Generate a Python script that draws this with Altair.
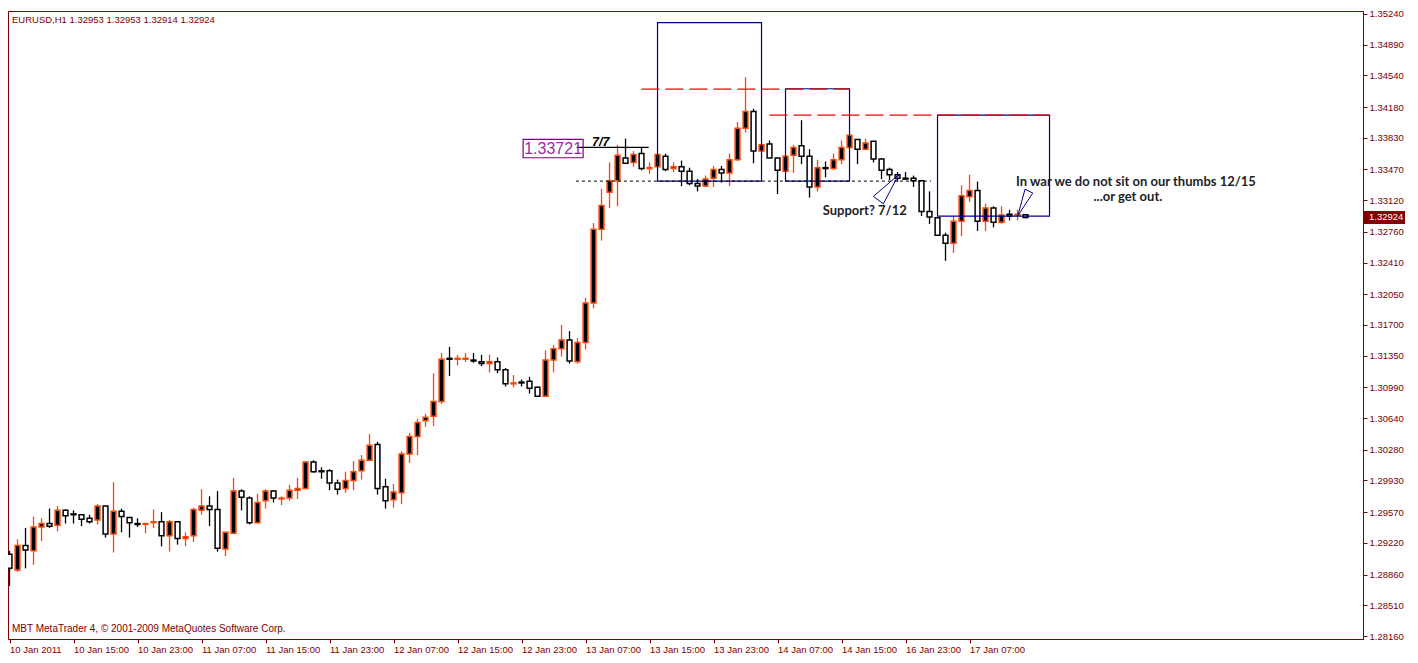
import altair as alt
import pandas as pd
import numpy as np

# ---------------- data (EURUSD H1) ----------------
opens = [1.2909, 1.2891, 1.2919, 1.2913, 1.2940, 1.2944, 1.2942, 1.2959, 1.2955, 1.2954,
         1.2950, 1.2948, 1.2964, 1.2932, 1.2958, 1.2951, 1.2944, 1.2943, 1.2945, 1.2946,
         1.2930, 1.2946, 1.2927, 1.2930, 1.2959, 1.2964, 1.2960, 1.2915, 1.2933, 1.2981,
         1.2973, 1.2945, 1.2970, 1.2981, 1.2972, 1.2973, 1.2982, 1.2984, 1.3014, 1.3004,
         1.3004, 1.2990, 1.2984, 1.2993, 1.3004, 1.3016, 1.3034, 1.2986, 1.2971, 1.2979,
         1.3023, 1.3043, 1.3061, 1.3066, 1.3083, 1.3132, 1.3131, 1.3131, 1.3130, 1.3128,
         1.3126, 1.3128, 1.3119, 1.3103, 1.3105, 1.3106, 1.3099, 1.3089, 1.3130, 1.3143,
         1.3153, 1.3128, 1.3150, 1.3195, 1.3279, 1.3321, 1.3334, 1.3360, 1.3355, 1.3365,
         1.3348, 1.3350, 1.3362, 1.3348, 1.3350, 1.3345, 1.3331, 1.3328, 1.3337, 1.3347,
         1.3343, 1.3358, 1.3394, 1.3413, 1.3368, 1.3376, 1.3360, 1.3345, 1.3363, 1.3374,
         1.3362, 1.3327, 1.3349, 1.3348, 1.3358, 1.3372, 1.3381, 1.3370, 1.3379, 1.3359,
         1.3347, 1.3341, 1.3337, 1.3337, 1.3334, 1.3299, 1.3292, 1.3272, 1.3263, 1.3288,
         1.3316, 1.3323, 1.3288, 1.3303, 1.3287, 1.3296, 1.3295, 1.32953]
highs = [1.2913, 1.2926, 1.2939, 1.2952, 1.2950, 1.2961, 1.2964, 1.2960, 1.2959, 1.2954,
         1.2954, 1.2966, 1.2964, 1.2991, 1.2961, 1.2951, 1.2950, 1.2944, 1.2960, 1.2957,
         1.2948, 1.2946, 1.2934, 1.2962, 1.2983, 1.2975, 1.2981, 1.2934, 1.2996, 1.2983,
         1.2975, 1.2978, 1.2983, 1.2982, 1.2975, 1.2988, 1.2996, 1.3014, 1.3016, 1.3008,
         1.3006, 1.2994, 1.3003, 1.3015, 1.3022, 1.3046, 1.3037, 1.2995, 1.2989, 1.3026,
         1.3047, 1.3063, 1.3069, 1.3115, 1.3138, 1.3145, 1.3136, 1.3138, 1.3138, 1.3136,
         1.3136, 1.3133, 1.3121, 1.3113, 1.3108, 1.3111, 1.3100, 1.3141, 1.3147, 1.3170,
         1.3163, 1.3155, 1.3201, 1.3286, 1.3325, 1.3355, 1.3375, 1.3382, 1.3368, 1.3372,
         1.3355, 1.3365, 1.3365, 1.3355, 1.3357, 1.3349, 1.3336, 1.3340, 1.3351, 1.3351,
         1.3365, 1.3401, 1.3452, 1.3416, 1.3375, 1.3380, 1.3360, 1.3362, 1.3375, 1.3403,
         1.3370, 1.3358, 1.3356, 1.3365, 1.3380, 1.3386, 1.3381, 1.3382, 1.3379, 1.3360,
         1.3349, 1.3344, 1.3344, 1.3340, 1.3334, 1.3322, 1.3292, 1.3275, 1.3294, 1.3329,
         1.3341, 1.3333, 1.3308, 1.3305, 1.3305, 1.3301, 1.3301, 1.32953]
lows = [1.2873, 1.2889, 1.2893, 1.2897, 1.2924, 1.2939, 1.2935, 1.2944, 1.2944, 1.2941,
        1.2944, 1.2943, 1.2928, 1.2911, 1.2934, 1.2928, 1.2940, 1.2933, 1.2939, 1.2918,
        1.2912, 1.2920, 1.2918, 1.2923, 1.2954, 1.2941, 1.2912, 1.2907, 1.2933, 1.2959,
        1.2943, 1.2944, 1.2961, 1.2968, 1.2965, 1.2970, 1.2972, 1.2984, 1.3002, 1.2995,
        1.2982, 1.2977, 1.2979, 1.2982, 1.2994, 1.3016, 1.2977, 1.2961, 1.2962, 1.2966,
        1.3013, 1.3022, 1.3054, 1.3055, 1.3080, 1.3112, 1.3124, 1.3128, 1.3127, 1.3123,
        1.3116, 1.3115, 1.3100, 1.3099, 1.3100, 1.3092, 1.3088, 1.3088, 1.3116, 1.3134,
        1.3126, 1.3126, 1.3142, 1.3189, 1.3266, 1.3303, 1.3305, 1.3353, 1.3350, 1.3346,
        1.3342, 1.3350, 1.3345, 1.3344, 1.3328, 1.3329, 1.3322, 1.3327, 1.3327, 1.3332,
        1.3328, 1.3357, 1.3389, 1.3354, 1.3368, 1.3360, 1.3319, 1.3345, 1.3343, 1.3353,
        1.3315, 1.3322, 1.3338, 1.3346, 1.3353, 1.3372, 1.3353, 1.3369, 1.3355, 1.3336,
        1.3335, 1.3333, 1.3336, 1.3327, 1.3294, 1.3285, 1.3272, 1.3243, 1.3252, 1.3271,
        1.3310, 1.3277, 1.3277, 1.3281, 1.3285, 1.3289, 1.3289, 1.32914]
closes = [1.2893, 1.2919, 1.2914, 1.2940, 1.2944, 1.2941, 1.2959, 1.2953, 1.2954, 1.2949,
          1.2946, 1.2964, 1.2932, 1.2958, 1.2952, 1.2945, 1.2943, 1.2944, 1.2946, 1.2930,
          1.2946, 1.2927, 1.2929, 1.2960, 1.2964, 1.2960, 1.2916, 1.2934, 1.2981, 1.2974,
          1.2945, 1.2968, 1.2981, 1.2973, 1.2973, 1.2982, 1.2984, 1.3014, 1.3003, 1.3003,
          1.2990, 1.2983, 1.2993, 1.3003, 1.3016, 1.3033, 1.2984, 1.2970, 1.2980, 1.3023,
          1.3043, 1.3059, 1.3065, 1.3083, 1.3131, 1.3131, 1.3132, 1.3132, 1.3129, 1.3126,
          1.3128, 1.3119, 1.3103, 1.3104, 1.3104, 1.3098, 1.3089, 1.3130, 1.3143, 1.3153,
          1.3129, 1.3150, 1.3195, 1.3279, 1.3306, 1.3334, 1.3363, 1.3354, 1.3364, 1.3348,
          1.3349, 1.3364, 1.3347, 1.3350, 1.3345, 1.3331, 1.3328, 1.3336, 1.3347, 1.3343,
          1.3358, 1.3394, 1.3413, 1.3368, 1.3375, 1.3360, 1.3346, 1.3362, 1.3372, 1.3362,
          1.3327, 1.3349, 1.3348, 1.3358, 1.3372, 1.3386, 1.3370, 1.3377, 1.3359, 1.3346,
          1.3341, 1.3337, 1.3336, 1.3334, 1.3299, 1.3293, 1.3272, 1.3263, 1.3288, 1.3317,
          1.3323, 1.3288, 1.3303, 1.3287, 1.3295, 1.3294, 1.3296, 1.32924]

x_tick_bars = [0, 8, 16, 24, 32, 40, 48, 56, 64, 72, 80, 88, 96, 104, 112, 120]
x_tick_labels = ["10 Jan 2011", "10 Jan 15:00", "10 Jan 23:00", "11 Jan 07:00",
                 "11 Jan 15:00", "11 Jan 23:00", "12 Jan 07:00", "12 Jan 15:00",
                 "12 Jan 23:00", "13 Jan 07:00", "13 Jan 15:00", "13 Jan 23:00",
                 "14 Jan 07:00", "14 Jan 15:00", "16 Jan 23:00", "17 Jan 07:00"]
y_ticks = [1.35240, 1.34890, 1.34540, 1.34180, 1.33830, 1.33470, 1.33120, 1.32760,
           1.32410, 1.32050, 1.31700, 1.31350, 1.30990, 1.30640, 1.30280, 1.29930,
           1.29570, 1.29220, 1.28860, 1.28510, 1.28160]

# drawn objects (bar index, price)
box_x0 = [81, 97, 116]
box_x1 = [94, 105, 130]
box_top = [1.35140, 1.34388, 1.34089]
box_bot = [1.33337, 1.33337, 1.32939]

red_x0 = [79, 95]
red_x1 = [105, 130]
red_y = [1.34385, 1.34089]

support_line = (70.8, 115.2, 1.33337)
level_line = (70.9, 79.9, 1.33721)

tri_id = [1, 1, 1, 1, 2, 2, 2, 2]
tri_order = [0, 1, 2, 3, 0, 1, 2, 3]
tri_x = [111.15, 107.98, 109.23, 111.15, 126.03, 126.94, 127.90, 126.03]
tri_y = [1.33411, 1.33163, 1.33079, 1.33411, 1.32942, 1.33245, 1.33201, 1.32942]

note_text = ["Support? 7/12", "In war we do not sit on our thumbs 12/15", "...or get out."]
note_x = [106.9, 140.8, 139.8]
note_y = [1.33000, 1.33325, 1.33160]

title_text = "EURUSD,H1  1.32953 1.32953 1.32914 1.32924"
copyright_text = "MBT MetaTrader 4, \u00a9 2001-2009 MetaQuotes Software Corp."
last_price = 1.32924

# ---------------- chart ----------------
W, H = 1355, 628
MAROON = "#800000"
ORANGE = "#FF4500"
NAVY = "#00008B"
FONT = "Liberation Sans"

df = pd.DataFrame({"i": np.arange(len(opens)), "o": opens, "h": highs, "l": lows, "c": closes})
df["dir"] = np.where(df["c"] > df["o"], "bull", "bear")
df["x0"] = df["i"] - 0.3
df["x1"] = df["i"] + 0.3

xs = alt.Scale(domain=[-0.19, -0.19 + W / 8.0], nice=False, zero=False)
ys = alt.Scale(domain=[1.28126, 1.35273], nice=False, zero=False)

labels_js = "[" + ",".join("'%s'" % t for t in x_tick_labels) + "]"
xaxis = alt.Axis(values=x_tick_bars, labelExpr=labels_js + "[round(datum.value/8)]",
                 title=None, grid=False, orient="bottom", domainColor=MAROON,
                 tickColor=MAROON, tickSize=4, labelAlign="left",
                 labelPadding=1, labelFont=FONT, labelFontSize=9.5, labelColor=MAROON,
                 labelOverlap=False, labelFlush=False)
yaxis = alt.Axis(values=y_ticks, format=".5f", title=None, grid=False, orient="right",
                 domainColor=MAROON, tickColor=MAROON, tickSize=4, labelPadding=2,
                 labelFont=FONT, labelFontSize=9.5, labelColor=MAROON, labelOverlap=False,
                 labelFlush=False)


def X(field):
    return alt.X(field, scale=xs, axis=xaxis)


def Y(field):
    return alt.Y(field, scale=ys, axis=yaxis)


dir_stroke = alt.Scale(domain=["bull", "bear"], range=[ORANGE, "#000000"])
dir_fill = alt.Scale(domain=["bull", "bear"], range=["#000000", "#ffffff"])

wicks = alt.Chart(df).mark_rule(strokeWidth=1.3, clip=True).encode(
    x=X("i:Q"), y=Y("l:Q"), y2="h:Q",
    stroke=alt.Stroke("dir:N", scale=dir_stroke, legend=None),
)
bodies = alt.Chart(df).mark_rect(strokeWidth=1.5, clip=True).encode(
    x=X("x0:Q"), x2="x1:Q", y=Y("o:Q"), y2="c:Q",
    fill=alt.Fill("dir:N", scale=dir_fill, legend=None),
    stroke=alt.Stroke("dir:N", scale=dir_stroke, legend=None),
)

box_df = pd.DataFrame({"x0": box_x0, "x1": box_x1, "top": box_top, "bot": box_bot})
boxes = alt.Chart(box_df).mark_rect(fillOpacity=0, stroke=NAVY, strokeWidth=1.2).encode(
    x=X("x0:Q"), x2="x1:Q", y=Y("top:Q"), y2="bot:Q",
)

red_df = pd.DataFrame({"x0": red_x0, "x1": red_x1, "y": red_y})
red_lines = alt.Chart(red_df).mark_rule(color="#FF0000", strokeWidth=1.2, strokeDash=[18, 6]).encode(
    x=X("x0:Q"), x2="x1:Q", y=Y("y:Q"),
)

sup_df = pd.DataFrame({"x0": [support_line[0]], "x1": [support_line[1]], "y": [support_line[2]]})
sup_line = alt.Chart(sup_df).mark_rule(color="#000000", strokeWidth=1, strokeDash=[3, 3]).encode(
    x=X("x0:Q"), x2="x1:Q", y=Y("y:Q"),
)
lvl_df = pd.DataFrame({"x0": [level_line[0]], "x1": [level_line[1]], "y": [level_line[2]]})
lvl_line = alt.Chart(lvl_df).mark_rule(color="#000000", strokeWidth=1.2).encode(
    x=X("x0:Q"), x2="x1:Q", y=Y("y:Q"),
)

lbl_df = pd.DataFrame({"x0": [64.2], "x1": [71.7], "top": [1.33813], "bot": [1.33603],
                       "xc": [67.95], "yc": [1.33705], "t": ["1.33721"]})
lbl_box = alt.Chart(lbl_df).mark_rect(fillOpacity=0, stroke="#800080", strokeWidth=1.2).encode(
    x=X("x0:Q"), x2="x1:Q", y=Y("top:Q"), y2="bot:Q",
)
lbl_text = alt.Chart(lbl_df).mark_text(font=FONT, fontSize=16, color="#9B2D9B",
                                       align="center", baseline="middle").encode(
    x=X("xc:Q"), y=Y("yc:Q"), text="t:N",
)
seven_df = pd.DataFrame({"x": [73.9], "y": [1.33785], "t": ["7/7"]})
seven = alt.Chart(seven_df).mark_text(font=FONT, fontSize=12.5, fontWeight="bold",
                                      fontStyle="italic", color="#000000",
                                      align="center", baseline="middle").encode(
    x=X("x:Q"), y=Y("y:Q"), text="t:N",
)

tri_df = pd.DataFrame({"id": tri_id, "k": tri_order, "x": tri_x, "y": tri_y})
tris = alt.Chart(tri_df).mark_line(color=NAVY, strokeWidth=1).encode(
    x=X("x:Q"), y=Y("y:Q"), detail="id:N", order="k:Q",
)

note_df = pd.DataFrame({"t": note_text, "x": note_x, "y": note_y})
notes = alt.Chart(note_df).mark_text(font="Lato", fontSize=13, fontWeight="bold",
                                     color="#1e1e28", align="center", baseline="middle").encode(
    x=X("x:Q"), y=Y("y:Q"), text="t:N",
)

half = 6.5 * (1.35273 - 1.28126) / H
price_df = pd.DataFrame({"p": [last_price], "top": [last_price + half], "bot": [last_price - half],
                         "t": ["%.5f" % last_price]})
price_box = alt.Chart(price_df).mark_rect(color=MAROON).encode(
    x=alt.value(W + 1), x2=alt.value(W + 42), y=Y("top:Q"), y2="bot:Q",
)
price_text = alt.Chart(price_df).mark_text(font=FONT, fontSize=9.5, color="#ffffff",
                                           align="left", baseline="middle").encode(
    x=alt.value(W + 6), y=Y("p:Q"), text="t:N",
)

title_df = pd.DataFrame({"t": [title_text]})
title = alt.Chart(title_df).mark_text(font=FONT, fontSize=9.5, color=MAROON,
                                      align="left", baseline="middle").encode(
    x=alt.value(4), y=alt.value(9), text="t:N",
)
copy_df = pd.DataFrame({"t": [copyright_text]})
copyright = alt.Chart(copy_df).mark_text(font=FONT, fontSize=10, color=MAROON,
                                         align="left", baseline="middle").encode(
    x=alt.value(4), y=alt.value(H - 10), text="t:N",
)

chart = alt.layer(
    wicks, bodies, boxes, red_lines, sup_line, lvl_line, lbl_box, lbl_text, seven,
    tris, notes, price_box, price_text, title, copyright,
).properties(width=W, height=H, padding=0, background="#ffffff").configure_view(
    stroke=MAROON, strokeWidth=1
)

chart.save("out.html", embed_options={"renderer": "svg", "actions": False})
